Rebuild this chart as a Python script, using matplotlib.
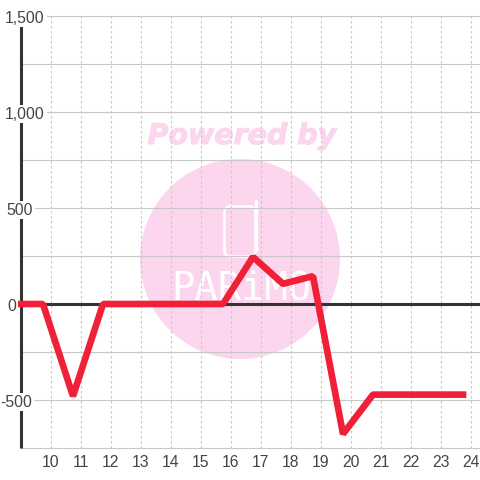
import matplotlib
matplotlib.use('Agg')
import matplotlib.pyplot as plt
import matplotlib.patheffects as pe
from matplotlib.patches import Circle, FancyBboxPatch

hours = [9, 9.75, 10.75, 11.75, 12.75, 13.75, 14.75, 15.75, 16.75, 17.75,
         18.75, 19.75, 20.75, 21.75, 22.75, 23.75]
values = [0, 0, -480, 0, 0, 0, 0, 0, 245, 105, 145, -677, -472, -472, -472, -472]
hour_ticks = list(range(10, 25))
value_ticks = [1500, 1000, 500, 0, -500]
value_labels = ['1,500', '1,000', '500', '0', '-500']
label_centers = [25, 25, 20, 12, 16.5]

GRID = '#c8c8c8'
DARK = '#333333'
PINK = '#fbd6ee'
RED = '#ef2037'

plt.rcParams['font.family'] = ['Liberation Sans', 'DejaVu Sans']

fig = plt.figure(figsize=(4.8, 4.8), dpi=100)
# axes box in pixels: x 20.5-480, y 16-448 from the top
ax = fig.add_axes([20.5 / 480, 32 / 480, 459.5 / 480, 432 / 480])
ax.set_xlim(9, 9 + 459.5 / 30)
ax.set_ylim(-750, 1500)
ax.patch.set_alpha(0)
for side in ax.spines:
    ax.spines[side].set_visible(False)
ax.set_yticks([])
ax.set_xticks(hour_ticks)
ax.tick_params(axis='x', length=0, pad=5, labelsize=11.3, labelcolor='#444444')

# watermark sits under the grid, in figure pixels
bg = fig.add_axes([0, 0, 1, 1], zorder=-1)
bg.set_xlim(0, 480)
bg.set_ylim(480, 0)
bg.axis('off')
bg.add_patch(Circle((240, 259), 100, color=PINK, lw=0))
bg.text(242, 136, 'Powered by', color=PINK, fontsize=20.5, ha='center', va='center',
        family='DejaVu Sans', weight='bold', style='oblique',
        path_effects=[pe.withStroke(linewidth=0.8, foreground=PINK)])
bg.add_patch(FancyBboxPatch((224.5, 206.5), 31, 50, boxstyle='round,pad=0,rounding_size=6',
                            fc='none', ec='white', lw=1.8))
bg.plot([255.5, 255.5], [201, 250], color='white', lw=2.4, solid_capstyle='round')
bg.text(241, 288, 'PARiMO', color='white', fontsize=28, ha='center', va='center',
        family='DejaVu Sans Mono')

for v in range(-750, 1750, 250):
    ax.axhline(v, color=GRID, lw=0.8, zorder=1, clip_on=False)
for h in hour_ticks:
    ax.axvline(h, color=GRID, lw=0.8, ls=(0, (2.2, 2.3)), zorder=1)
ax.axhline(0, color=DARK, lw=2.2, zorder=2)
ax.plot([9, 9], [-750, 1460], color=DARK, lw=2.2, zorder=2, clip_on=False,
        solid_capstyle='butt')

ax.plot(hours, values, color=RED, lw=4.8, zorder=3, clip_on=False,
        solid_joinstyle='bevel', solid_capstyle='projecting')

for v, lab, cx in zip(value_ticks, value_labels, label_centers):
    ax.annotate(lab, xy=(cx, v), xycoords=('figure pixels', 'data'), xytext=(0, -1.5),
                textcoords='offset points', ha='center', va='center',
                fontsize=11.3, color='#444444', zorder=5,
                bbox=dict(fc='white', ec='none', pad=1.2))

fig.savefig('out.png', dpi=100)
